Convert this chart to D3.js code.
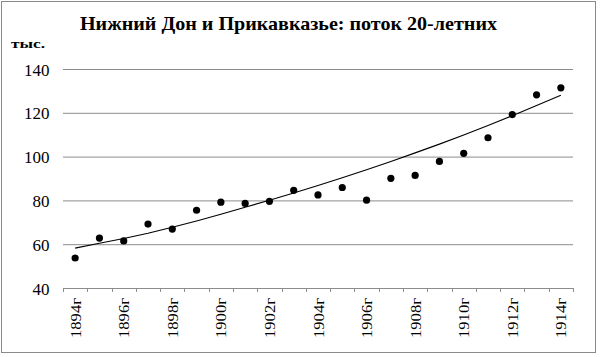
<!DOCTYPE html>
<html><head><meta charset="utf-8">
<script src="https://cdn.jsdelivr.net/npm/d3@7"></script>
<style>body{margin:0;background:#fff}svg{display:block}text{font-family:"Liberation Serif","DejaVu Serif",serif}</style>
</head><body>
<svg id="c" width="600" height="357"></svg>
<script>
const years = ["1894г","1895г","1896г","1897г","1898г","1899г","1900г","1901г","1902г","1903г","1904г","1905г","1906г","1907г","1908г","1909г","1910г","1911г","1912г","1913г","1914г"];
const flow = [53.7,62.8,61.5,69.2,66.9,75.5,79.2,78.6,79.6,84.6,82.5,85.9,80.1,90.1,91.4,97.8,101.5,108.6,119.2,128.2,131.4];
const trend = [58.2,60.4,62.6,65.0,67.7,70.6,73.7,76.9,80.1,83.4,86.8,90.3,94.0,97.8,101.7,105.7,109.9,114.2,118.7,123.3,128.0];
const yTicks = [40,60,80,100,120,140];
const labelYears = ["1894г","1896г","1898г","1900г","1902г","1904г","1906г","1908г","1910г","1912г","1914г"];
const title = "Нижний Дон и Прикавказье: поток 20-летних";
const unit = "тыс.";

const svg = d3.select("#c");
svg.append("rect").attr("x",1.5).attr("y",1.5).attr("width",594).attr("height",351)
  .attr("fill","#fff").attr("stroke","#8a8a8a");

const L=63, R=573, T=69, B=288;
const x = d3.scaleBand().domain(years).range([L,R]);
const y = d3.scaleLinear().domain([40,140]).range([B,T]);

svg.append("g").selectAll("line").data(yTicks.filter(v=>v>40)).join("line")
  .attr("x1",L).attr("x2",R).attr("y1",d=>y(d)+0.5).attr("y2",d=>y(d)+0.5)
  .attr("stroke","#8c8c8c").attr("stroke-width",1);

svg.append("g").selectAll("text").data(yTicks).join("text")
  .attr("x",49.5).attr("y",d=>y(d)+6.5).attr("text-anchor","end")
  .attr("font-size",17).attr("fill","#000").text(d=>d);

// x axis
const xa = svg.append("g");
xa.append("line").attr("x1",L).attr("x2",R).attr("y1",B+0.5).attr("y2",B+0.5).attr("stroke","#8c8c8c");
const bounds = years.map(d=>x(d)).concat([R]);
xa.selectAll("line.t").data(bounds).join("line").attr("class","t")
  .attr("x1",d=>Math.round(d)+0.5).attr("x2",d=>Math.round(d)+0.5).attr("y1",B).attr("y2",B+4)
  .attr("stroke","#8c8c8c");
xa.selectAll("text").data(labelYears).join("text")
  .attr("transform",d=>`translate(${x(d)+x.bandwidth()/2+5.5},${B+10}) rotate(-90)`)
  .attr("text-anchor","end").attr("font-size",15).attr("textLength",40).attr("lengthAdjust","spacingAndGlyphs")
  .attr("fill","#000").text(d=>d);

// trend line
const line = d3.line().x((d,i)=>x(years[i])+x.bandwidth()/2).y(d=>y(d));
svg.append("path").attr("d",line(trend)).attr("fill","none").attr("stroke","#000").attr("stroke-width",1.1);

svg.append("g").selectAll("circle").data(flow).join("circle")
  .attr("cx",(d,i)=>x(years[i])+x.bandwidth()/2).attr("cy",d=>y(d)).attr("r",3.6).attr("fill","#000");

svg.append("text").attr("x",80).attr("y",30)
  .attr("font-weight","bold").attr("font-size",19).attr("textLength",417).attr("lengthAdjust","spacingAndGlyphs").text(title);
svg.append("text").attr("x",11).attr("y",48).attr("font-weight","bold")
  .attr("font-size",13).attr("textLength",34).attr("lengthAdjust","spacingAndGlyphs").text(unit);
</script>
</body></html>
